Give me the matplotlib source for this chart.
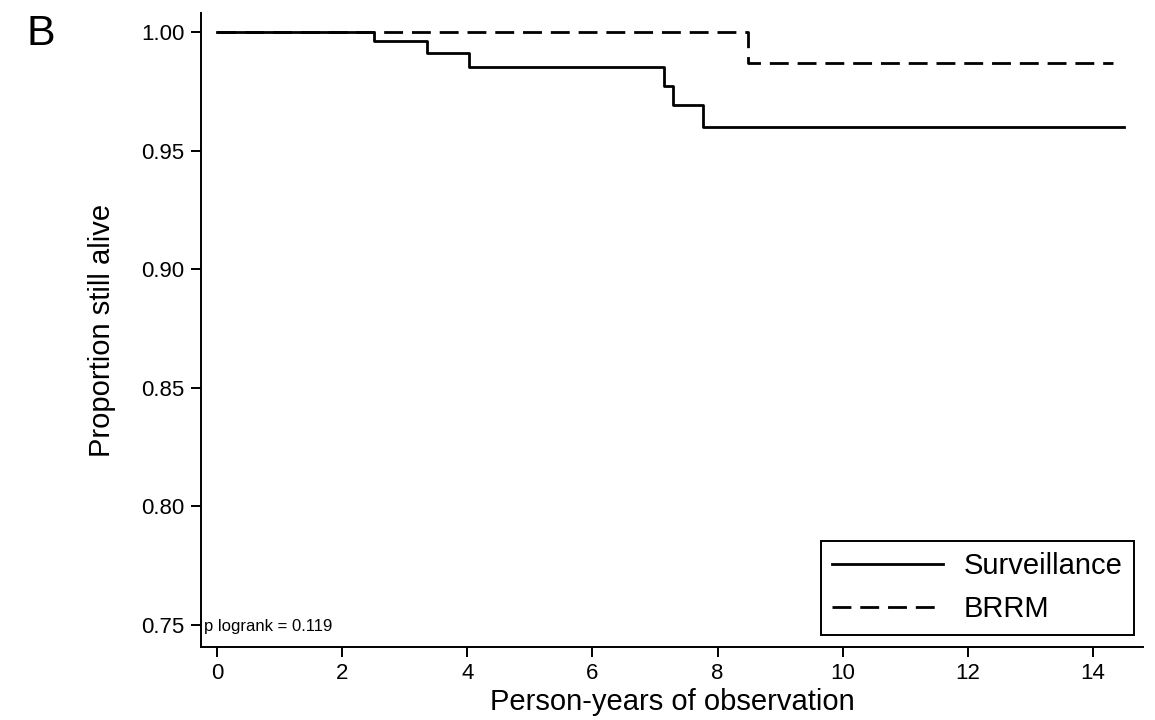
import matplotlib
matplotlib.use("Agg")
import matplotlib.pyplot as plt

plt.rcParams['font.family'] = ['Liberation Sans', 'DejaVu Sans']

# Kaplan-Meier steps
surv_t = [0, 2.51, 3.36, 4.03, 7.14, 7.29, 7.77, 14.5]
surv_s = [1.0, 0.9962, 0.9911, 0.9852, 0.9772, 0.9692, 0.960, 0.960]
brrm_t = [0, 8.48, 14.32]
brrm_s = [1.0, 0.9869, 0.9869]

xticks = [0, 2, 4, 6, 8, 10, 12, 14]
yticks = [0.75, 0.80, 0.85, 0.90, 0.95, 1.00]
ytick_labels = ['0.75', '0.80', '0.85', '0.90', '0.95', '1.00']

fig = plt.figure(figsize=(11.55, 7.2), dpi=100)
ax = fig.add_axes([0.174, 0.1014, 0.8156, 0.8806])

ax.step(surv_t, surv_s, where='post', color='black', lw=2, label='Surveillance')
ax.step(brrm_t, brrm_s, where='post', color='black', lw=2,
        dashes=(6.8, 3.2), label='BRRM')

ax.set_xlim(-0.256, 14.80)
ax.set_ylim(0.7407, 1.008)
ax.set_xticks(xticks)
ax.set_yticks(yticks)
ax.set_yticklabels(ytick_labels)

for s in ['top', 'right']:
    ax.spines[s].set_visible(False)
for s in ['left', 'bottom']:
    ax.spines[s].set_linewidth(1.4)
ax.tick_params(direction='out', length=7, width=1.4, labelsize=16)
ax.tick_params(axis='x', pad=4.5)
ax.tick_params(axis='y', pad=5)

ax.set_xlabel('Person-years of observation', fontsize=21)
ax.set_ylabel('Proportion still alive', fontsize=21)
ax.xaxis.set_label_coords(0.5, -0.0647)
ax.yaxis.set_label_coords(-0.090, 0.5)

ax.text(-0.2, 0.7495, 'p logrank = 0.119', fontsize=12, va='center', ha='left')

leg = ax.legend(loc='lower right', bbox_to_anchor=(1134 / 1155, 1 - 635 / 720),
                bbox_transform=fig.transFigure, borderaxespad=0, fontsize=21,
                handlelength=3.8, handletextpad=0.7, labelspacing=0.52,
                fancybox=False, framealpha=1, edgecolor='black', borderpad=0.4)
leg.get_frame().set_linewidth(1.4)

fig.text(26 / 1155, 1 - 45 / 720, 'B', fontsize=31, va='baseline', ha='left')

fig.savefig('out.png', dpi=100)
